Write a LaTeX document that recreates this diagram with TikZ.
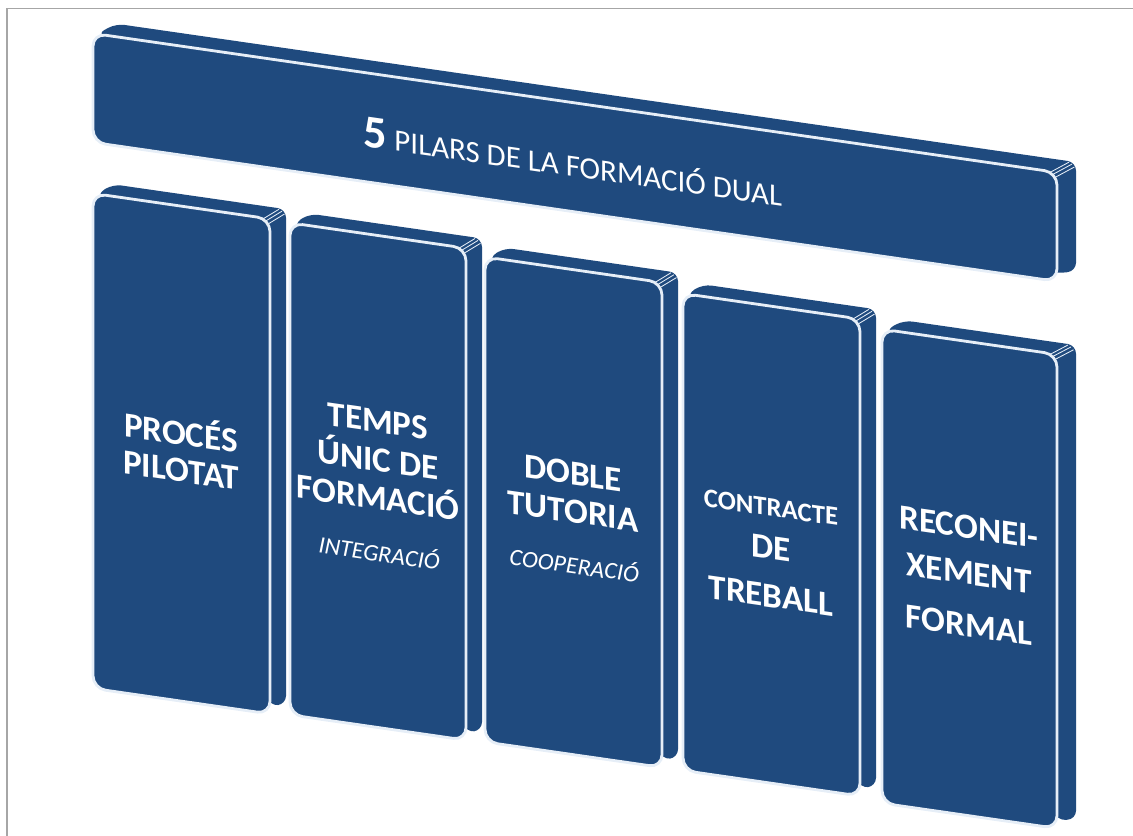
\documentclass[tikz,border=0pt]{standalone}
\usepackage{fontspec}
\setmainfont{Carlito}[AutoFakeSlant=0.2]
\definecolor{pilarblue}{HTML}{1F4A7E}
\definecolor{edgewhite}{HTML}{E6EEF7}
\begin{document}
\begin{tikzpicture}[x=.025cm,y=-.025cm]
  \tikzstyle{frame} = [draw=black!35,line width=1.4pt];
  \tikzstyle{back} = [fill=pilarblue,rounded corners=6pt];
  \tikzstyle{front} = [fill=pilarblue,draw=edgewhite,line width=2pt,rounded corners=9pt];
  \tikzstyle{ridge} = [draw=edgewhite,line width=.6pt];
  \tikzstyle{txt} = [text=white,anchor=base,inner sep=0pt];
  \tikzstyle{lbl} = [txt,font=\fontsize{25}{25}\selectfont\bfseries];
  \tikzstyle{lblsmall} = [txt,font=\fontsize{19}{19}\selectfont\bfseries];
  \tikzstyle{sub} = [txt,font=\fontsize{17}{17}\selectfont\itshape];
  \tikzstyle{title} = [txt,font=\fontsize{22}{22}\selectfont];
  \useasboundingbox (0,0) rectangle (1133,836);
  \draw[frame] (7,836) -- (7,8.5) -- (1133,8.5);
  \begin{scope}[yslant=-.1442,transform shape]
    % banner
    \fill[back] (97,20) -- (116,7) -- (1076,7) -- (1076,116) -- (1057,121) -- cycle;
    \filldraw[front] (93,20) rectangle (1057,129);
    \draw[ridge] (1050,21) -- ++(19,-13) (1053,22.5) -- ++(19,-13) (1055.5,25) -- ++(19,-13);
    \node[title] (title) at (573,94) {{\fontsize{33}{33}\selectfont\bfseries 5} PILARS DE LA FORMACIÓ DUAL};
    % pillar 1
    \fill[back] (97,180) -- (113,168) -- (286,168) -- (286,663) -- (270,667) -- cycle;
    \filldraw[front] (93,180) rectangle (270,675);
    \draw[ridge] (263,181) -- ++(16,-12) (266,182.5) -- ++(16,-12) (268.5,185) -- ++(16,-12);
    % pillar 2
    \fill[back] (294,181) -- (310,169) -- (482,169) -- (482,661) -- (466,665) -- cycle;
    \filldraw[front] (290,181) rectangle (466,673);
    \draw[ridge] (459,182) -- ++(16,-12) (462,183.5) -- ++(16,-12) (464.5,186) -- ++(16,-12);
    % pillar 3
    \fill[back] (489,187) -- (505,175) -- (678,175) -- (678,660) -- (662,664) -- cycle;
    \filldraw[front] (485,187) rectangle (662,672);
    \draw[ridge] (655,188) -- ++(16,-12) (658,189.5) -- ++(16,-12) (660.5,192) -- ++(16,-12);
    % pillar 4
    \fill[back] (687,195) -- (703,183) -- (876,183) -- (876,660) -- (860,664) -- cycle;
    \filldraw[front] (683,195) rectangle (860,672);
    \draw[ridge] (853,196) -- ++(16,-12) (856,197.5) -- ++(16,-12) (858.5,200) -- ++(16,-12);
    % pillar 5
    \fill[back] (886,202) -- (904,190) -- (1076,190) -- (1076,664) -- (1057,668) -- cycle;
    \filldraw[front] (882,202) rectangle (1057,676);
    \draw[ridge] (1050,203) -- ++(18,-12) (1053,204.5) -- ++(18,-12) (1055.5,207) -- ++(18,-12);
    % texts
    \node[lbl] (proces) at (181,419) {PROCÉS};
    \node[lbl] (pilotat) at (181,456) {PILOTAT};
    \node[lbl] (temps) at (378,378) {TEMPS};
    \node[lbl] (unic) at (378,417) {ÚNIC DE};
    \node[lbl] (formacio) at (378,455) {FORMACIÓ};
    \node[sub] (integracio) at (378,507) {INTEGRACIÓ};
    \node[lbl] (doble) at (573,402) {DOBLE};
    \node[lbl] (tutoria) at (573,440) {TUTORIA};
    \node[sub] (cooperacio) at (573,491) {COOPERACIÓ};
    \node[lblsmall] (contracte) at (771,405) {CONTRACTE};
    \node[lbl] (de) at (771,448) {DE};
    \node[lbl] (treball) at (771,496) {TREBALL};
    \node[lbl] (reconei) at (969,399) {RECONEI-};
    \node[lbl] (xement) at (969,445) {XEMENT};
    \node[lbl] (formal) at (969,497) {FORMAL};
  \end{scope}
\end{tikzpicture}
\end{document}
